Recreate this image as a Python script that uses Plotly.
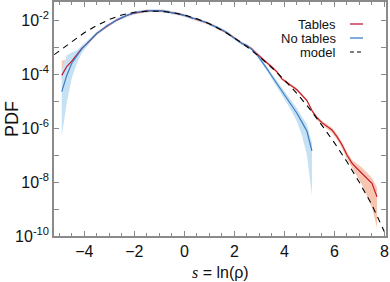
import plotly.graph_objects as go

# ---------------- data (log10 PDF) ----------------
s_red = [round(-4.9 + 0.2 * i, 1) for i in range(64)]
red_log = [-4.05, -3.72, -3.52, -3.30, -3.05, -2.88, -2.68, -2.50, -2.36, -2.22,
           -2.11, -2.00, -1.90, -1.83, -1.76, -1.72, -1.68, -1.66, -1.655, -1.65,
           -1.66, -1.69, -1.72, -1.76, -1.80, -1.86, -1.92, -1.97, -2.03, -2.10,
           -2.18, -2.27, -2.35, -2.47, -2.60, -2.74, -2.86, -2.95, -3.07, -3.25,
           -3.43, -3.58, -3.74, -3.92, -4.18, -4.32, -4.44, -4.58, -4.78, -4.98,
           -5.35, -5.62, -5.80, -5.93, -6.07, -6.32, -6.62, -7.00, -7.30, -7.50,
           -7.68, -7.88, -8.05, -8.55]
red_lo = [0.17, 0.12, 0.09, 0.07] + [0.05] * 46 + [0.07, 0.08, 0.08, 0.09, 0.10, 0.10, 0.12, 0.15,
                                                  0.17, 0.30, 0.42, 0.65, 0.90, 1.15]
red_hi = [0.55, 0.25, 0.12, 0.07] + [0.05] * 46 + [0.06, 0.07, 0.07, 0.08, 0.08, 0.09, 0.10, 0.12,
                                                  0.12, 0.18, 0.22, 0.22, 0.20, 0.35]

s_blue = [round(-4.9 + 0.2 * i, 1) for i in range(51)]
blue_log = [-4.65, -4.05, -3.60, -3.32,
            -3.07, -2.87, -2.69, -2.49, -2.37, -2.21, -2.12, -1.99, -1.91, -1.82,
            -1.77, -1.71, -1.69, -1.66, -1.65, -1.65, -1.67, -1.68, -1.73, -1.75,
            -1.81, -1.85, -1.93, -1.96, -2.04, -2.09, -2.19, -2.26, -2.36, -2.46,
            -2.61, -2.73, -2.87, -2.94, -3.09,
            -3.28, -3.52, -3.80, -4.08, -4.35, -4.62, -4.88, -5.15, -5.45, -5.78,
            -6.12, -6.85]
blue_lo = [1.65, 1.00, 0.55, 0.30, 0.15, 0.10, 0.07] + [0.05] * 32 + \
          [0.06, 0.07, 0.08, 0.10, 0.12, 0.15, 0.20, 0.25, 0.32, 0.50, 0.90, 1.65]
blue_hi = [0.80, 0.75, 0.40, 0.20, 0.12, 0.08, 0.06] + [0.05] * 32 + \
          [0.05, 0.06, 0.07, 0.08, 0.10, 0.12, 0.14, 0.16, 0.18, 0.20, 0.25, 0.30]

s_model = [-5.2, -5.0, -4.5, -4.0, -3.5, -3.0, -2.5, -2.0, -1.5, -1.0, -0.5, 0.0,
           0.5, 1.0, 1.5, 2.0, 2.5, 3.0, 3.5, 4.0, 4.5, 5.0, 5.5, 6.0, 6.5, 7.0,
           7.5, 8.0]
model_log = [-3.28, -3.14, -2.80, -2.47, -2.20, -1.98, -1.81, -1.71, -1.67, -1.67,
             -1.72, -1.81, -1.95, -2.14, -2.38, -2.66, -2.99, -3.36, -3.77, -4.22,
             -4.72, -5.28, -5.90, -6.55, -7.25, -8.02, -8.85, -9.85]

x_ticks = [-4, -2, 0, 2, 4, 6, 8]
y_decades = list(range(-10, -1))
legend_names = ["Tables", "No tables", "model"]

RED, RED_BAND = "#c41a30", "#f8c6b0"
BLUE, BLUE_BAND = "#3c7ec6", "#c6e1f3"
FONT = "Liberation Sans, Arial, Helvetica, sans-serif"
AX = "#8a8a8a"


def p(v):
    return [10 ** a for a in v]


fig = go.Figure()


def add_band(x, center, lo, hi, color):
    fig.add_trace(go.Scatter(x=x, y=p([c - l for c, l in zip(center, lo)]), mode="lines",
                             line=dict(width=0), hoverinfo="skip", showlegend=False))
    fig.add_trace(go.Scatter(x=x, y=p([c + h for c, h in zip(center, hi)]), mode="lines",
                             line=dict(width=0), fill="tonexty", fillcolor=color,
                             hoverinfo="skip", showlegend=False))


add_band(s_red, red_log, red_lo, red_hi, RED_BAND)
add_band(s_blue, blue_log, blue_lo, blue_hi, BLUE_BAND)
fig.add_trace(go.Scatter(x=s_red, y=p(red_log), mode="lines",
                         line=dict(color=RED, width=1.2), showlegend=False))
fig.add_trace(go.Scatter(x=s_blue, y=p(blue_log), mode="lines",
                         line=dict(color=BLUE, width=1.2), showlegend=False))
fig.add_trace(go.Scatter(x=s_model, y=p(model_log), mode="lines",
                         line=dict(color="black", width=1.1, dash="6px,5px"),
                         showlegend=False))

# plot area in pixels: x 54..386, y 2..236
PL, PR, PT, PB = 54, 386, 2, 236


def px(xp):
    return (xp - PL) / (PR - PL)


def py(yp):
    return 1 - (yp - PT) / (PB - PT)


# legend (text right, line sample on the right)
leg_y = [24, 38, 52]
leg_col = [RED, BLUE, "#555555"]
leg_dash = ["solid", "solid", "4px,3px"]
for name, yy, c, d in zip(legend_names, leg_y, leg_col, leg_dash):
    fig.add_annotation(x=px(338), y=py(yy), xref="paper", yref="paper", text=name, showarrow=False,
                       xanchor="right", yanchor="middle", font=dict(size=13, color="#111", family=FONT))
    fig.add_shape(type="line", xref="paper", yref="paper", x0=px(350), x1=px(363), y0=py(yy), y1=py(yy),
                  line=dict(color=c, width=1.3, dash=d))

# axis titles
fig.add_annotation(x=px(220), y=py(272), xref="paper", yref="paper", showarrow=False,
                   text="<i><span style='font-family:Liberation Serif, Times New Roman, serif'>s</span></i> = ln(ρ)",
                   xanchor="center", yanchor="middle", font=dict(size=16, color="#111", family=FONT))
fig.add_annotation(x=px(12), y=py(119), xref="paper", yref="paper", showarrow=False, text="PDF",
                   textangle=-90, xanchor="center", yanchor="middle",
                   font=dict(size=18, color="#111", family=FONT))

axis_common = dict(showline=True, linecolor=AX, linewidth=1.5, mirror="ticks",
                   ticks="inside", tickcolor=AX, showgrid=False, zeroline=False,
                   automargin=False, ticklabeloverflow="allow",
                   tickfont=dict(size=16, color="#111", family=FONT))

fig.update_layout(
    width=390, height=282,
    margin=dict(l=PL, r=390 - PR, t=PT, b=282 - PB),
    paper_bgcolor="white", plot_bgcolor="white",
    font=dict(family=FONT, color="#111"),
    hovermode=False,
    xaxis=dict(range=[-5.21, 8.06], tickvals=x_ticks, ticklen=5, tickwidth=1.2,
               minor=dict(dtick=0.5, tick0=0, ticks="inside", ticklen=3, tickcolor=AX,
                          showgrid=False),
               **axis_common),
    yaxis=dict(type="log", range=[-10, -1.33], tickvals=[10 ** k for k in y_decades],
               ticktext=[("10<sup>%d</sup>" % k) if k % 2 == 0 else "" for k in y_decades],
               ticklen=5, tickwidth=1.2,
               **axis_common),
)

fig.write_html("out.html", config={"displayModeBar": False},
               post_script="document.body.style.margin='0px';")
